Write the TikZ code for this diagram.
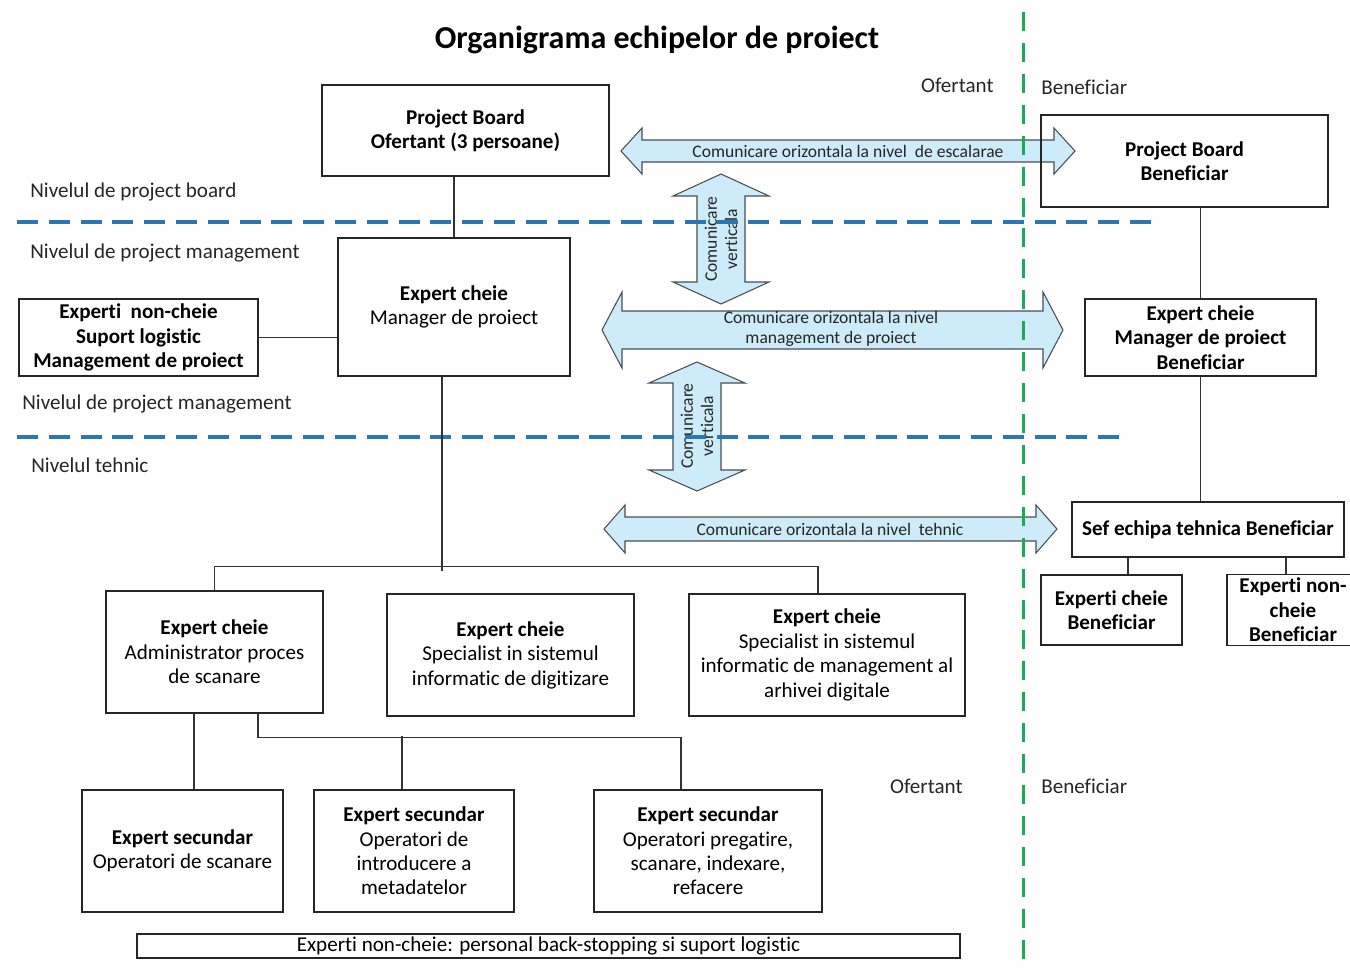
\documentclass[tikz,border=0pt]{standalone}
\usepackage{fontspec}
\setmainfont{Carlito}[Ligatures={NoCommon}]
\usetikzlibrary{
	arrows.meta,
	calc,
	positioning
}
\definecolor{LevelBlue}{RGB}{44,118,180}
\definecolor{SideGreen}{RGB}{30,168,90}
\definecolor{ArrowFill}{RGB}{205,235,248}
\definecolor{ArrowEdge}{RGB}{70,78,86}
\newcommand{\boxfont}{\fontsize{12}{13.9}\selectfont}
\newcommand{\arrowfont}{\fontsize{10}{11.4}\selectfont}
\newcommand{\titlefont}{\fontsize{18.2}{21}\selectfont\bfseries}
\tikzset{
	box/.style={draw=black!85,line width=0.8pt,align=center,inner sep=2pt,font=\boxfont},
	bbox/.style={box,font=\boxfont\bfseries},
	lvl/.style={inner sep=0pt,font=\boxfont,text=black!85},
	arrowtext/.style={inner sep=0pt,align=center,font=\arrowfont,text=black!85},
	conn/.style={draw=black!80,line width=0.6pt},
	blockarrow/.style={draw=ArrowEdge,fill=ArrowFill,line width=0.6pt,line join=miter},
	levelline/.style={LevelBlue,line width=2pt,dash pattern=on 11.9pt off 6.2pt},
	sideline/.style={SideGreen,line width=1.7pt,dash pattern=on 10.8pt off 6.8pt}
}
% left tip x, right tip x, y, shaft half, head half, head length
\newcommand{\tikzHArrow}[6]{\draw[blockarrow] (#1,#3) -- (#1+#6,#3-#5) -- (#1+#6,#3-#4) -- (#2-#6,#3-#4) -- (#2-#6,#3-#5) -- (#2,#3) -- (#2-#6,#3+#5) -- (#2-#6,#3+#4) -- (#1+#6,#3+#4) -- (#1+#6,#3+#5) -- cycle;}
% x, top tip y, bottom tip y, shaft half, head half, head length
\newcommand{\tikzVArrow}[6]{\draw[blockarrow] (#1,#2) -- (#1+#5,#2+#6) -- (#1+#4,#2+#6) -- (#1+#4,#3-#6) -- (#1+#5,#3-#6) -- (#1,#3) -- (#1-#5,#3-#6) -- (#1-#4,#3-#6) -- (#1-#4,#2+#6) -- (#1-#5,#2+#6) -- cycle;}

\begin{document}
\begin{tikzpicture}[x=0.02cm,y=-0.02cm]
	\useasboundingbox (0,0) rectangle (1350,968);
	\clip (0,0) rectangle (1350,968);
	
	\node[font=\titlefont] (title) at (657,40) {Organigrama echipelor de proiect};
	
	% Block arrows between the two sides
	\tikzHArrow{621}{1075}{151}{11}{23}{21}
	\tikzVArrow{721}{174}{304}{24}{48}{22}
	\tikzHArrow{602}{1063}{330}{19}{38}{20}
	\tikzVArrow{697}{362}{491}{24}{48}{21}
	\tikzHArrow{604}{1057}{529}{12}{24}{21}
	\node[arrowtext] (hEsc) at (848,151) {Comunicare orizontala la nivel\ \ de escalarae};
	\node[arrowtext,rotate=90] (vUp) at (721,239) {Comunicare\\verticala};
	\node[arrowtext] (hMgmt) at (831,329) {Comunicare orizontala la nivel\\management de proiect};
	\node[arrowtext,rotate=90] (vDown) at (697,426) {Comunicare\\verticala};
	\node[arrowtext] (hTech) at (830,529) {Comunicare orizontala la nivel\ \ tehnic};
	
	% Level separators
	\draw[levelline] (17,222) -- (1155,222);
	\draw[levelline] (17,437) -- (1125,437);
	\draw[sideline] (1023,12) -- (1023,968);
	
	\node[lvl,anchor=west] (lvlBoard) at (30,192) {Nivelul de project board};
	\node[lvl,anchor=west] (lvlMgmtA) at (30,253) {Nivelul de project management};
	\node[lvl,anchor=west] (lvlMgmtB) at (22,404) {Nivelul de project management};
	\node[lvl,anchor=west] (lvlTech) at (31,465) {Nivelul tehnic};
	\node[lvl,anchor=east] (sideO1) at (994,85) {Ofertant};
	\node[lvl,anchor=west] (sideB1) at (1041,87) {Beneficiar};
	\node[lvl,anchor=east] (sideO2) at (963,786) {Ofertant};
	\node[lvl,anchor=west] (sideB2) at (1041,786) {Beneficiar};
	
	% Ofertant
	\node[bbox,minimum width=5.74cm,minimum height=1.82cm] (pbO) at (465.5,130.5) {Project Board\\Ofertant (3 persoane)};
	\node[box,minimum width=4.64cm,minimum height=2.76cm] (mgr) at (454,307) {\textbf{Expert cheie}\\Manager de proiect};
	\node[bbox,minimum width=4.78cm,minimum height=1.54cm] (nonk) at (138.5,337.5) {Experti\ \ non-cheie\\Suport logistic\\Management de proiect};
	\node[box,minimum width=4.34cm,minimum height=2.44cm] (adm) at (214.5,652) {\textbf{Expert cheie}\\Administrator proces\\de scanare};
	\node[box,minimum width=4.94cm,minimum height=2.44cm] (dig) at (510.5,655) {\textbf{Expert cheie}\\Specialist in sistemul\\informatic de digitizare};
	\node[box,minimum width=5.52cm,minimum height=2.44cm] (arh) at (827,655) {\textbf{Expert cheie}\\Specialist in sistemul\\informatic de management al\\arhivei digitale};
	\node[box,minimum width=4.02cm,minimum height=2.44cm] (opS) at (182.5,851) {\textbf{Expert secundar}\\Operatori de scanare};
	\node[box,minimum width=4cm,minimum height=2.44cm] (opI) at (414,851) {\textbf{Expert secundar}\\Operatori de\\introducere a\\metadatelor};
	\node[box,minimum width=4.56cm,minimum height=2.44cm] (opP) at (708,851) {\textbf{Expert secundar}\\Operatori pregatire,\\scanare, indexare,\\refacere};
	\node[box,minimum width=16.46cm,minimum height=0.48cm,inner sep=0pt] (bnr) at (548.5,946) {Experti non-cheie: personal back-stopping si suport logistic};
	
	% Beneficiar
	\node[bbox,minimum width=5.74cm,minimum height=1.84cm] (pbB) at (1184.5,161) {Project Board\\Beneficiar};
	\node[bbox,minimum width=4.62cm,minimum height=1.54cm] (mgrB) at (1200.5,337.5) {Expert cheie\\Manager de proiect\\Beneficiar};
	\node[bbox,minimum width=5.44cm,minimum height=1.1cm] (sef) at (1208,529.5) {Sef echipa tehnica Beneficiar};
	\node[bbox,minimum width=2.82cm,minimum height=1.4cm] (ekB) at (1111.5,610) {Experti cheie\\Beneficiar};
	\node[bbox,minimum width=2.64cm,minimum height=1.4cm] (nkB) at (1293,610) {Experti non-\\cheie\\Beneficiar};
	
	% Connections
	\draw[conn] (mgr.north) -- (mgr.north |- pbO.south);
	\draw[conn] (nonk.east) -- (nonk.east -| mgr.west);
	\draw[conn] ($(mgr.south)+(-12,0)$) -- ++(0,194);
	\draw[conn] (adm.north) -- ++(0,-24) -| ($(arh.north)+(-9,0)$);
	\draw[conn] ($(adm.south)+(-20.5,0)$) coordinate (admL) -- (admL |- opS.north);
	\coordinate (admR) at ($(adm.south)+(43.5,0)$);
	\coordinate (opIn) at ($(opI.north)+(-12,0)$);
	\coordinate (opPr) at ($(opP.north)+(-27,0)$);
	\draw[conn] (admR) -- ++(0,24) -| (opPr);
	\draw[conn] (opIn) -- ++(0,-53);
	\draw[conn] (mgrB.north) -- (mgrB.north |- pbB.south);
	\draw[conn] (mgrB.south) -- (mgrB.south |- sef.north);
	\draw[conn] ($(ekB.north)+(16.5,0)$) coordinate (ekTop) -- (ekTop |- sef.south);
	\draw[conn] ($(nkB.north)+(-7,0)$) coordinate (nkTop) -- (nkTop |- sef.south);
\end{tikzpicture}
\end{document}
